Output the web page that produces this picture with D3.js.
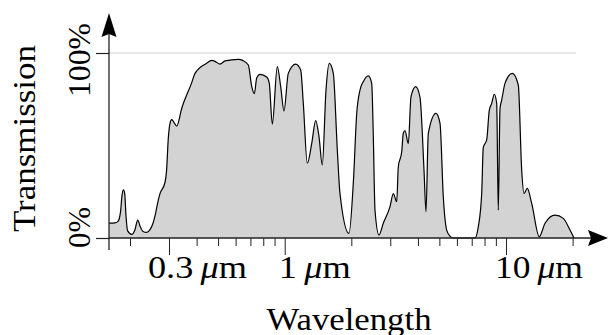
<!DOCTYPE html>
<html>
<head>
<meta charset="utf-8">
<script src="https://cdn.jsdelivr.net/npm/d3@7"></script>
<style>
  html, body { margin: 0; padding: 0; background: #fff; }
  svg { display: block; }
  text { font-family: "Liberation Serif", "Times New Roman", serif; fill: #000; }
</style>
</head>
<body>
<svg id="chart" width="608" height="335"></svg>
<script>
// ---- data ----
const wavelength = [
  0.1607, 0.1711, 0.1765, 0.1811, 0.1840, 0.1865, 0.1892, 0.1918, 0.1949, 0.2035,
  0.2106, 0.2166, 0.2219, 0.2289, 0.2378, 0.2462, 0.2540, 0.2594, 0.2684, 0.2732,
  0.2877, 0.2923, 0.2979, 0.3032, 0.3086, 0.3251, 0.3424, 0.3800, 0.3933, 0.4441,
  0.4679, 0.4842, 0.5101, 0.5374, 0.6171, 0.6458, 0.6847, 0.7094, 0.7290, 0.7474,
  0.7735, 0.8292, 0.8518, 0.8790, 0.9259, 0.9592, 0.9927, 1.0382, 1.1212, 1.1811,
  1.2134, 1.2652, 1.3243, 1.3806, 1.4289, 1.4788, 1.5368, 1.5906, 1.6583, 1.7289,
  1.7778, 1.9524, 2.0418, 2.1151, 2.1894, 2.2659, 2.3869, 2.4727, 2.5147, 2.5590,
  2.6681, 2.7898, 2.9917, 3.0960, 3.2076, 3.2614, 3.3790, 3.4356, 3.4970, 3.6191,
  3.7220, 3.9084, 4.0870, 4.2611, 4.3504, 4.4558, 4.8284, 5.0339, 5.2096, 5.3951,
  5.5847, 5.7615, 7.2428, 7.4955, 7.7659, 7.8958, 8.1808, 8.4049, 8.6183, 8.8540,
  9.0782, 9.2296, 9.3964, 9.5650, 9.8978, 10.679, 11.365, 11.775, 12.060, 12.484,
  13.066, 14.143, 15.007, 16.650, 18.153, 19.466, 20.293
];
const transmission = [
  8, 8.2, 9, 14, 23, 26, 24, 12, 4, 2,
  4.5, 9.7, 6.5, 3.5, 3, 4.5, 8, 12, 20.5, 24,
  30, 36, 54, 62, 64, 60.5, 70, 84, 89, 94.5,
  96, 95.5, 94, 95.7, 96.6, 96, 93.5, 82, 78, 86.5,
  88.5, 87, 83.6, 61.6, 92.6, 81.8, 68.6, 89, 94, 90.8,
  73, 40.4, 51, 63.4, 54.8, 39.5, 80, 94.4, 89, 47.6,
  24, 2.5, 29.6, 67, 80, 84.5, 87.6, 83.6, 54.8, 15,
  1.6, 8, 17, 24, 19.6, 38.5, 46.6, 56.6, 58, 51,
  76.4, 81.8, 76, 36.8, 14.2, 56.6, 67.4, 62, 22, 4.3,
  1, 0, 0, 6, 24, 49, 53, 69, 72.8, 77.7,
  72.8, 15, 70, 74.6, 83.6, 89, 82.7, 36.8, 24, 26.8,
  18.7, 0.7, 8, 12.4, 10.6, 4.3, 0
];
const majorTicks = [0.3, 1, 10];
const minorTicks = [0.2, 0.4, 0.5, 0.6, 0.7, 0.8, 0.9, 2, 3, 4, 5, 6, 7, 8, 9, 20];
const majorLabels = ["0.3", "1", "10"];
const yTicks = [0, 100];
const yLabels = ["0%", "100%"];
const xTitle = "Wavelength";
const yTitle = "Transmission";

// ---- drawing ----
const svg = d3.select("#chart");
const data = wavelength.map((w, i) => ({ w, t: transmission[i] }));

const x = d3.scaleLog().domain(d3.extent(wavelength)).range([109, 574]);
const y = d3.scaleLinear().domain([0, 100]).range([238, 53]);
const x0 = x.range()[0];

// 100% reference line
svg.append("line")
  .attr("x1", x0).attr("x2", x.range()[1] + 2)
  .attr("y1", y(100)).attr("y2", y(100))
  .attr("stroke", "#cfcfcf").attr("stroke-width", 1);

// area + outline
const curve = d3.curveMonotoneX;
svg.append("path").datum(data)
  .attr("fill", "#d3d3d3")
  .attr("d", d3.area().x(d => x(d.w)).y0(y(0)).y1(d => y(d.t)).curve(curve));
svg.append("path").datum(data)
  .attr("fill", "none").attr("stroke", "#000").attr("stroke-width", 1.2)
  .attr("stroke-linejoin", "round")
  .attr("d", d3.line().x(d => x(d.w)).y(d => y(d.t)).curve(curve));

// x ticks via d3 axes
const gMinor = svg.append("g").attr("transform", `translate(0,${y(0)})`)
  .call(d3.axisBottom(x).tickValues(minorTicks).tickSize(8).tickFormat(""));
const gMajor = svg.append("g").attr("transform", `translate(0,${y(0)})`)
  .call(d3.axisBottom(x).tickValues(majorTicks).tickSize(17).tickFormat(""));
[gMinor, gMajor].forEach(g => {
  g.select(".domain").remove();
  g.selectAll(".tick line").attr("stroke", "#222").attr("stroke-width", 1);
});

// y ticks via d3 axis
const gY = svg.append("g").attr("transform", `translate(${x0},0)`)
  .call(d3.axisLeft(y).tickValues(yTicks).tickSize(13).tickFormat(""));
gY.select(".domain").remove();
gY.selectAll(".tick line").attr("stroke", "#222").attr("stroke-width", 1.2);

// axis lines with arrows
svg.append("line").attr("x1", x0).attr("x2", 592).attr("y1", y(0)).attr("y2", y(0))
  .attr("stroke", "#222").attr("stroke-width", 1.3);
svg.append("line").attr("x1", x0).attr("x2", x0).attr("y1", 250).attr("y2", 32)
  .attr("stroke", "#222").attr("stroke-width", 1.3);
svg.append("path").attr("d", `M608,${y(0)} L588,${y(0) - 8} L591,${y(0)} L588,${y(0) + 8} Z`)
  .attr("fill", "#000");
svg.append("path").attr("d", `M${x0},13 L${x0 - 7.5},37 L${x0},34 L${x0 + 7.5},37 Z`)
  .attr("fill", "#000");

function fit(sel, w) {
  sel.attr("textLength", w).attr("lengthAdjust", "spacingAndGlyphs");
}

// x tick labels
const labelWidths = [99, 72, 88];
majorTicks.forEach((t, i) => {
  const txt = svg.append("text")
    .attr("x", x(t) + 30 + (i === 2 ? 3 : 0) - (i === 0 ? 1.5 : 0))
    .attr("y", 278)
    .attr("text-anchor", "middle")
    .attr("font-size", 31);
  txt.append("tspan").text(majorLabels[i] + "\u2009");
  txt.append("tspan").attr("font-style", "italic").text("\u03bc");
  txt.append("tspan").text("m");
  fit(txt, labelWidths[i]);
});

// y tick labels (rotated)
const yLabelStart = { 0: 248, 100: 97 };
const yLabelWidth = { 0: 41, 100: 74 };
yTicks.forEach((t, i) => {
  const txt = svg.append("text")
    .attr("transform", `translate(89.5,${yLabelStart[t]}) rotate(-90)`)
    .attr("text-anchor", "start")
    .attr("font-size", 31)
    .text(yLabels[i]);
  fit(txt, yLabelWidth[t]);
});

// titles
fit(svg.append("text")
  .attr("x", 349).attr("y", 329.5).attr("text-anchor", "middle")
  .attr("font-size", 31).text(xTitle), 165);
fit(svg.append("text")
  .attr("transform", "translate(34.5,138.5) rotate(-90)")
  .attr("text-anchor", "middle").attr("font-size", 32).text(yTitle), 187);
</script>
</body>
</html>
